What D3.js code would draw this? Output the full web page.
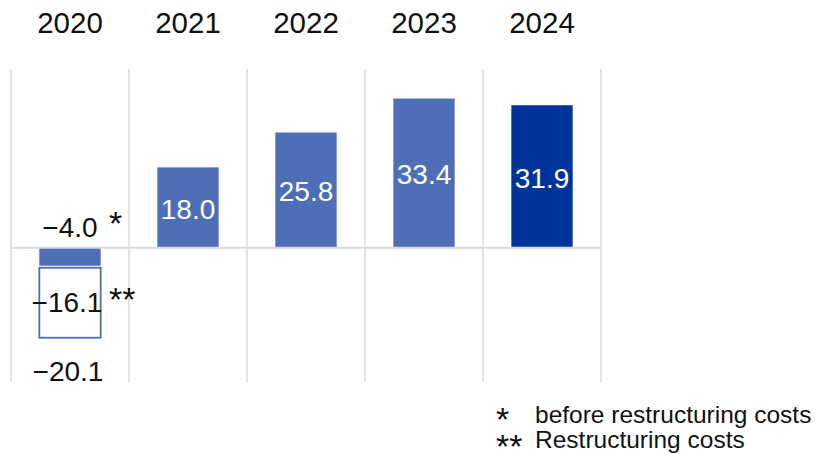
<!DOCTYPE html>
<html>
<head>
<meta charset="utf-8">
<script src="https://cdn.jsdelivr.net/npm/d3@7"></script>
<style>
  html, body { margin: 0; padding: 0; background: #fff; }
  svg { display: block; font-family: "Liberation Sans", Arial, sans-serif; }
</style>
</head>
<body>
<svg id="chart" width="820" height="454"></svg>
<script>
// Operating result by year (billions)
const years = ["2020", "2021", "2022", "2023", "2024"];
const values = [-20.1, 18.0, 25.8, 33.4, 31.9];
// 2020 split: result before restructuring, and restructuring costs
const beforeRestructuring = -4.0;
const restructuringCosts = -16.1;
const legendMarks = ["*", "**"];
const legendTexts = ["before restructuring costs", "Restructuring costs"];

const fmt = v => (v < 0 ? "\u2212" : "") + Math.abs(v).toFixed(1);

const svg = d3.select("#chart");
const LIGHT = "#4e6fb6", DARK = "#00349a", GRID = "#dadada", INK = "#111";

const x = d3.scaleBand().domain(years).range([11, 601])
  .paddingInner(0.48).paddingOuter(0.24);
const y = d3.scaleLinear().domain([-30, 40]).range([382, 69]);

// vertical grid lines at category boundaries
const bounds = years.map((d, i) => 11 + i * x.step()).concat([601]);
svg.append("g").selectAll("line").data(bounds).join("line")
  .attr("x1", d => d).attr("x2", d => d)
  .attr("y1", y(40)).attr("y2", y(-30))
  .attr("stroke", GRID).attr("stroke-width", 1.5);

// year labels on top
svg.append("g").selectAll("text").data(years).join("text")
  .attr("x", d => x(d) + x.bandwidth() / 2)
  .attr("y", 33)
  .attr("text-anchor", "middle")
  .attr("font-size", 29.5)
  .attr("fill", INK)
  .text(d => d);

// positive bars
const pos = years.map((d, i) => ({ year: d, value: values[i] })).filter(d => d.value > 0);
svg.append("g").selectAll("rect").data(pos).join("rect")
  .attr("x", d => x(d.year))
  .attr("width", x.bandwidth())
  .attr("y", d => y(d.value))
  .attr("height", d => y(0) - y(d.value))
  .attr("fill", d => d.year === "2024" ? DARK : LIGHT);

svg.append("g").selectAll("text").data(pos).join("text")
  .attr("x", d => x(d.year) + x.bandwidth() / 2)
  .attr("y", d => (y(d.value) + y(0)) / 2 + 11)
  .attr("text-anchor", "middle")
  .attr("font-size", 28)
  .attr("fill", "#fff")
  .text(d => fmt(d.value));

// 2020: stacked negative result
const x0 = x("2020"), bw = x.bandwidth(), cx0 = x0 + bw / 2;
svg.append("rect")
  .attr("x", x0).attr("width", bw)
  .attr("y", y(0)).attr("height", y(beforeRestructuring) - y(0))
  .attr("fill", LIGHT);
const rTop = y(beforeRestructuring) + 2;
const rBot = y(beforeRestructuring + restructuringCosts);
svg.append("rect")
  .attr("x", x0).attr("width", bw)
  .attr("y", rTop).attr("height", rBot - rTop)
  .attr("fill", "#fff").attr("stroke", LIGHT).attr("stroke-width", 1.8);

// zero line
svg.append("line")
  .attr("x1", 11).attr("x2", 601)
  .attr("y1", y(0)).attr("y2", y(0))
  .attr("stroke", GRID).attr("stroke-width", 2);

const lab = svg.append("g").attr("font-size", 28).attr("fill", INK);
lab.append("text").attr("x", cx0).attr("y", y(0) - 11)
  .attr("text-anchor", "middle").text(fmt(beforeRestructuring));
lab.append("text").attr("x", 109).attr("y", 235)
  .attr("font-size", 34).text("*");
lab.append("text").attr("x", cx0 - 3).attr("y", 312)
  .attr("text-anchor", "middle").text(fmt(restructuringCosts));
lab.append("text").attr("x", 109).attr("y", 311)
  .attr("font-size", 34).text("**");
lab.append("text").attr("x", cx0 - 2).attr("y", 381)
  .attr("text-anchor", "middle").text(fmt(values[0]));

// footnote legend
const leg = svg.append("g").attr("font-size", 24.5).attr("fill", INK);
legendTexts.forEach((t, i) => {
  leg.append("text").attr("x", 496).attr("y", 431 + i * 27)
    .attr("font-size", 34).text(legendMarks[i]);
  leg.append("text").attr("x", 535).attr("y", 423 + i * 25).text(t);
});
</script>
</body>
</html>
